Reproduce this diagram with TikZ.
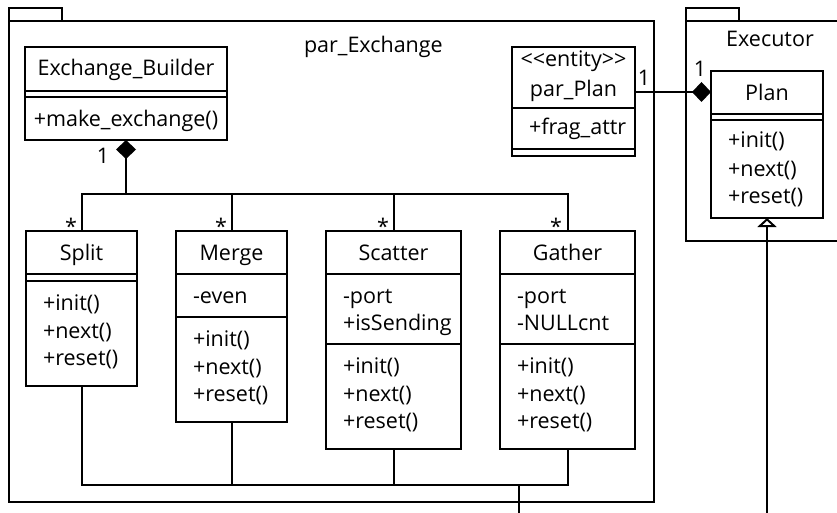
\documentclass[tikz,border=0pt]{standalone}
\usepackage{fontspec}
\setmainfont{Open Sans}
\usetikzlibrary{arrows.meta}
\begin{document}
\begin{tikzpicture}[x=1pt,y=-1pt,line width=2pt,
  box/.style={draw,rectangle,inner sep=0pt,outer sep=0pt},
  tl/.style={inner sep=0pt,anchor=base west,font=\fontsize{21.5}{26}\selectfont},
  tc/.style={inner sep=0pt,anchor=base,font=\fontsize{21.5}{26}\selectfont},
  comp/.style={-{Diamond[length=19pt,width=20pt]}},
  inh/.style={-{Triangle[open,length=9pt,width=19pt]}},
]
\useasboundingbox (0,0) rectangle (837,513);
\clip (0,0) rectangle (837,513);
% packages
\draw (9,8) rectangle (62,21);
\draw (9,21) rectangle (654,502);
\node[tl] (pkgA) at (303,53) {par\_Exchange};
\draw (686,8) rectangle (739,21);
\draw (686,21) -- (845,21);
\draw (845,241) -- (686,241) -- (686,21);
\node[tc] (pkgB) at (770,47) {Executor};

% Exchange_Builder
\node[box,minimum width=202pt,minimum height=93pt] (eb) at (126,93.5) {};
\draw (eb.west |- 0,91) -- (eb.east |- 0,91);
\draw (eb.west |- 0,97) -- (eb.east |- 0,97);
\node[tc] (ebn) at (126,76) {Exchange\_Builder};
\node[tc] (ebm) at (126,127) {+make\_exchange()};

% par_Plan
\node[box,minimum width=123pt,minimum height=109pt] (pp) at (573.5,101.5) {};
\draw (pp.west |- 0,108) -- (pp.east |- 0,108);
\draw (pp.west |- 0,149) -- (pp.east |- 0,149);
\node[tc] (ppst) at (573.5,67) {{<}{<}entity{>}{>}};
\node[tc] (ppn) at (573.5,97) {par\_Plan};
\node[tl] (ppa) at (528,135) {+frag\_attr};

% Plan
\node[box,minimum width=112pt,minimum height=147pt] (plan) at (767,144.5) {};
\draw (plan.west |- 0,114) -- (plan.east |- 0,114);
\draw (plan.west |- 0,120) -- (plan.east |- 0,120);
\node[tc] (plann) at (767,101) {Plan};
\node[tl] (plan1) at (727,148) {+init()};
\node[tl] (plan2) at (727,176) {+next()};
\node[tl] (plan3) at (727,203) {+reset()};

% Split
\node[box,minimum width=111pt,minimum height=155pt] (split) at (81.5,308.5) {};
\draw (split.west |- 0,274) -- (split.east |- 0,274);
\draw (split.west |- 0,281) -- (split.east |- 0,281);
\node[tc] (splitn) at (81.5,260) {Split};
\node[tl] (split1) at (42,310) {+init()};
\node[tl] (split2) at (42,338) {+next()};
\node[tl] (split3) at (42,365) {+reset()};

% Merge
\node[box,minimum width=111pt,minimum height=191pt] (merge) at (231.5,326.5) {};
\draw (merge.west |- 0,274) -- (merge.east |- 0,274);
\draw (merge.west |- 0,317) -- (merge.east |- 0,317);
\node[tc] (mergen) at (231.5,260) {Merge};
\node[tl] (mergea) at (192,303) {-even};
\node[tl] (merge1) at (192,346) {+init()};
\node[tl] (merge2) at (192,374) {+next()};
\node[tl] (merge3) at (192,401) {+reset()};

% Scatter
\node[box,minimum width=135pt,minimum height=218pt] (scat) at (393.5,340) {};
\draw (scat.west |- 0,274) -- (scat.east |- 0,274);
\draw (scat.west |- 0,344) -- (scat.east |- 0,344);
\node[tc] (scatn) at (393.5,260) {Scatter};
\node[tl] (scata1) at (342,303) {-port};
\node[tl] (scata2) at (342,330) {+isSending};
\node[tl] (scat1) at (342,373) {+init()};
\node[tl] (scat2) at (342,401) {+next()};
\node[tl] (scat3) at (342,428) {+reset()};

% Gather
\node[box,minimum width=135pt,minimum height=218pt] (gath) at (567.5,340) {};
\draw (gath.west |- 0,274) -- (gath.east |- 0,274);
\draw (gath.west |- 0,344) -- (gath.east |- 0,344);
\node[tc] (gathn) at (567.5,260) {Gather};
\node[tl] (gatha1) at (516,303) {-port};
\node[tl] (gatha2) at (516,330) {-NULLcnt};
\node[tl] (gath1) at (516,373) {+init()};
\node[tl] (gath2) at (516,401) {+next()};
\node[tl] (gath3) at (516,428) {+reset()};

% composition tree
\coordinate (bus) at (0,194);
\draw[comp] (eb.south |- bus) -- (eb.south);
\draw (split.north) -- (split.north |- bus) -- (gath.north |- bus) -- (gath.north);
\draw (merge.north) -- (merge.north |- bus);
\draw (scat.north) -- (scat.north |- bus);
\node[tc] (m1) at (103,164) {1};
\node[tc] (s1) at (71,234) {*};
\node[tc] (s2) at (221,234) {*};
\node[tc] (s3) at (383,234) {*};
\node[tc] (s4) at (556,234) {*};

% bottom bus
\coordinate (bot) at (0,485);
\coordinate (out) at (519,513);
\draw (split.south) -- (split.south |- bot) -- (gath.south |- bot) -- (gath.south);
\draw (merge.south) -- (merge.south |- bot);
\draw (scat.south) -- (scat.south |- bot);
\draw (out |- bot) -- (out);

% par_Plan -- Plan
\coordinate (lnk) at (0,92);
\draw[comp] (pp.east |- lnk) -- (plan.west |- lnk);
\node[tc] (m2) at (644,86) {1};
\node[tc] (m3) at (700,77) {1};

% inheritance
\coordinate (inb) at (767,513);
\draw[inh] (inb) -- (plan.south);
\end{tikzpicture}
\end{document}
